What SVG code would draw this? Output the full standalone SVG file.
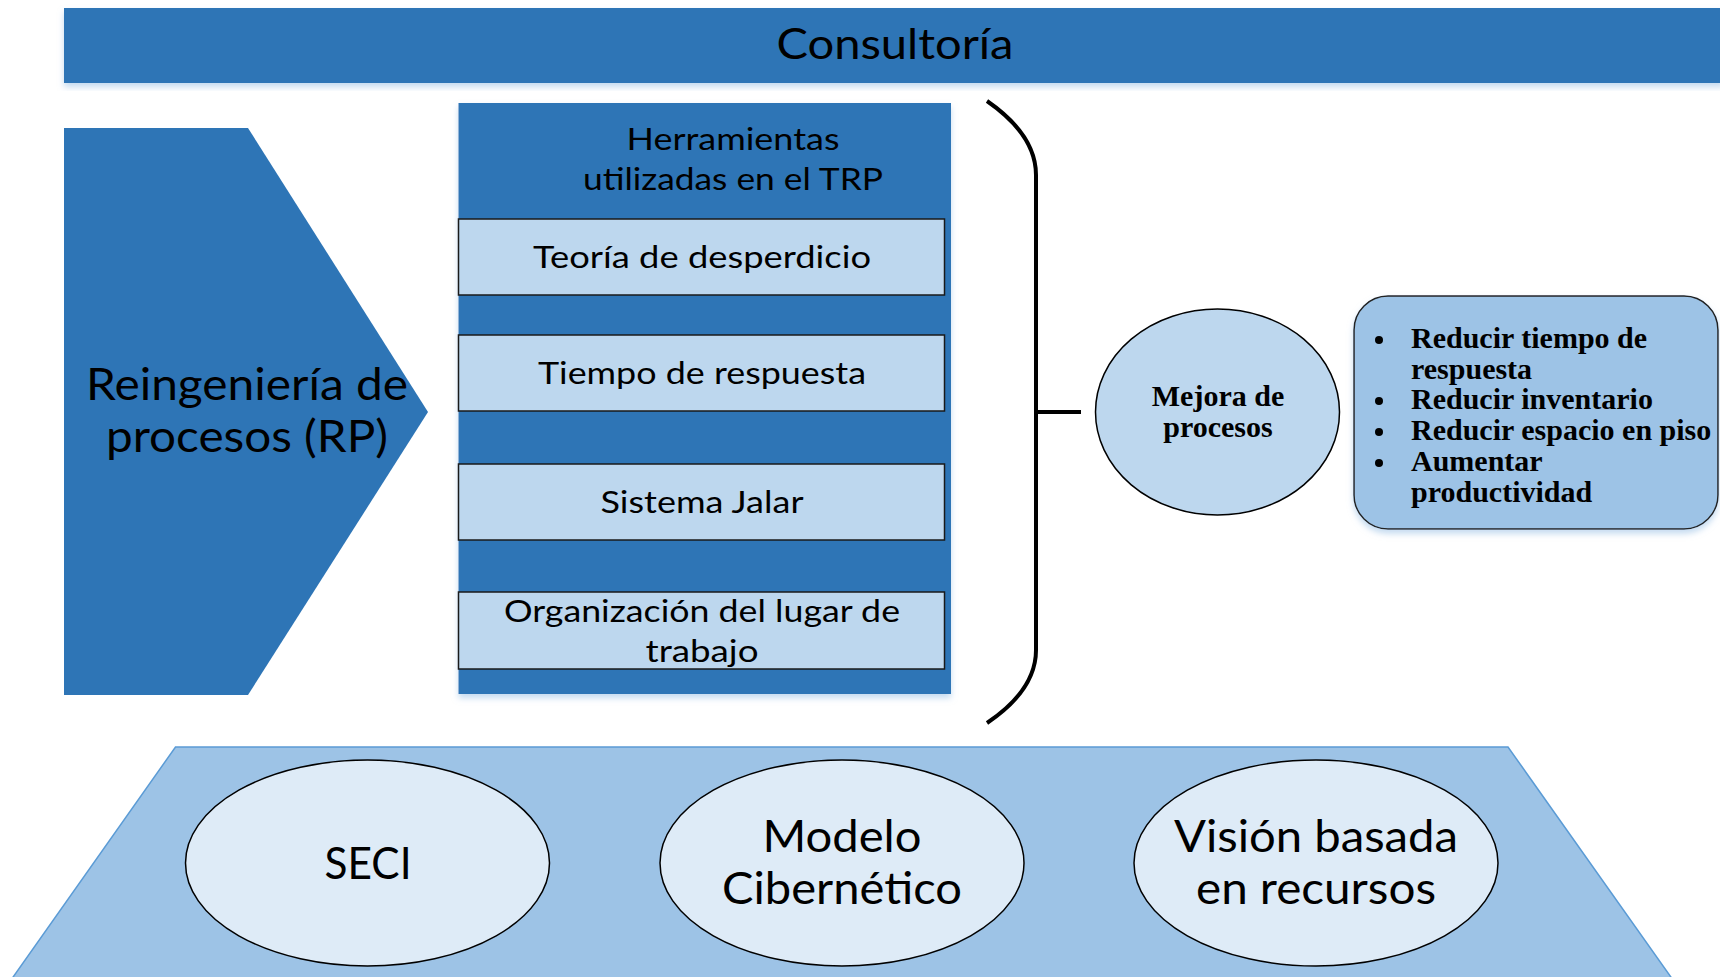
<svg xmlns="http://www.w3.org/2000/svg" width="1720" height="977" viewBox="0 0 1720 977">
<style>
.dark{fill:#2E75B6;}
.lbox{fill:#BDD7EE;stroke:#1a1a1a;stroke-width:1.5;}
.cal{font-family:Lato,"Liberation Sans",sans-serif;fill:#000;text-anchor:middle;}
.tnr{font-family:"Liberation Serif",serif;font-weight:bold;fill:#000;}
.ell{fill:#DEEBF7;stroke:#000;stroke-width:1.5;}
</style>
<defs>
<filter id="sh" x="-5%" y="-5%" width="110%" height="115%">
<feDropShadow dx="0" dy="4" stdDeviation="3" flood-color="#9DC3E6" flood-opacity="0.6"/>
</filter>
</defs>
<rect width="1720" height="977" fill="#fff"/>

<g id="consultoria">
<rect class="dark" x="64" y="8" width="1660" height="75" filter="url(#sh)"/>
<text class="cal" x="895" y="59" font-size="42" textLength="237" lengthAdjust="spacingAndGlyphs">Consultoría</text>
</g>

<g id="reingenieria">
<polygon class="dark" points="64,128 248,128 428,412 248,695 64,695"/>
<text class="cal" x="247" y="400" font-size="44" textLength="322" lengthAdjust="spacingAndGlyphs">Reingeniería de</text>
<text class="cal" x="247" y="452" font-size="44" textLength="282" lengthAdjust="spacingAndGlyphs">procesos (RP)</text>
</g>

<g id="herramientas">
<rect class="dark" x="458.5" y="103" width="492.5" height="591" filter="url(#sh)"/>
<text class="cal" x="733" y="150" font-size="30" textLength="213" lengthAdjust="spacingAndGlyphs">Herramientas</text>
<text class="cal" x="733" y="190" font-size="30" textLength="300" lengthAdjust="spacingAndGlyphs">utilizadas en el TRP</text>
</g>
<g id="teoria">
<rect class="lbox" x="458.5" y="219" width="486" height="76"/>
<text class="cal" x="702" y="268" font-size="31" textLength="338" lengthAdjust="spacingAndGlyphs">Teoría de desperdicio</text>
</g>
<g id="tiempo">
<rect class="lbox" x="458.5" y="335" width="486" height="76"/>
<text class="cal" x="702" y="384" font-size="31" textLength="328" lengthAdjust="spacingAndGlyphs">Tiempo de respuesta</text>
</g>
<g id="sistema">
<rect class="lbox" x="458.5" y="464" width="486" height="76"/>
<text class="cal" x="702" y="513" font-size="31" textLength="203" lengthAdjust="spacingAndGlyphs">Sistema Jalar</text>
</g>
<g id="organizacion">
<rect class="lbox" x="458.5" y="592" width="486" height="77"/>
<text class="cal" x="702" y="622" font-size="31" textLength="396" lengthAdjust="spacingAndGlyphs">Organización del lugar de</text>
<text class="cal" x="702" y="662" font-size="31" textLength="113" lengthAdjust="spacingAndGlyphs">trabajo</text>
</g>

<g id="connectors" fill="none" stroke="#000" stroke-width="4">
<path d="M987,101 Q1036,135 1036,175 L1036,650 Q1036,690 987,723"/>
<path d="M1036,412 L1081,412"/>
</g>

<g id="mejora">
<ellipse cx="1217.5" cy="412" rx="122" ry="103" fill="#BDD7EE" stroke="#000" stroke-width="1.5"/>
<text class="tnr" x="1218" y="406" font-size="30" text-anchor="middle">Mejora de</text>
<text class="tnr" x="1218" y="437" font-size="30" text-anchor="middle">procesos</text>
</g>

<g id="objetivos">
<rect x="1354" y="296" width="364" height="233" rx="34" fill="#9DC3E6" stroke="#222" stroke-width="1.5" filter="url(#sh)"/>
<g class="tnr" font-size="30">
<circle cx="1379" cy="340" r="4"/>
<circle cx="1379" cy="401" r="4"/>
<circle cx="1379" cy="432" r="4"/>
<circle cx="1379" cy="463" r="4"/>
<text x="1411" y="348">Reducir tiempo de</text>
<text x="1411" y="379">respuesta</text>
<text x="1411" y="409">Reducir inventario</text>
<text x="1411" y="440">Reducir espacio en piso</text>
<text x="1411" y="471">Aumentar</text>
<text x="1411" y="502">productividad</text>
</g>
</g>

<g id="base">
<polygon points="175.5,747 1508,747 1673,980 11,980" fill="#9DC3E6" stroke="#5B9BD5" stroke-width="1.5"/>
</g>
<g id="seci">
<ellipse class="ell" cx="367.5" cy="863" rx="182" ry="103"/>
<text class="cal" x="368" y="879" font-size="44" textLength="87" lengthAdjust="spacingAndGlyphs">SECI</text>
</g>
<g id="modelo">
<ellipse class="ell" cx="842" cy="863" rx="182" ry="103"/>
<text class="cal" x="842" y="852" font-size="44" textLength="159" lengthAdjust="spacingAndGlyphs">Modelo</text>
<text class="cal" x="842" y="904" font-size="44" textLength="240" lengthAdjust="spacingAndGlyphs">Cibernético</text>
</g>
<g id="vision">
<ellipse class="ell" cx="1316" cy="863" rx="182" ry="103"/>
<text class="cal" x="1316" y="852" font-size="44" textLength="284" lengthAdjust="spacingAndGlyphs">Visión basada</text>
<text class="cal" x="1316" y="904" font-size="44" textLength="240" lengthAdjust="spacingAndGlyphs">en recursos</text>
</g>
</svg>
